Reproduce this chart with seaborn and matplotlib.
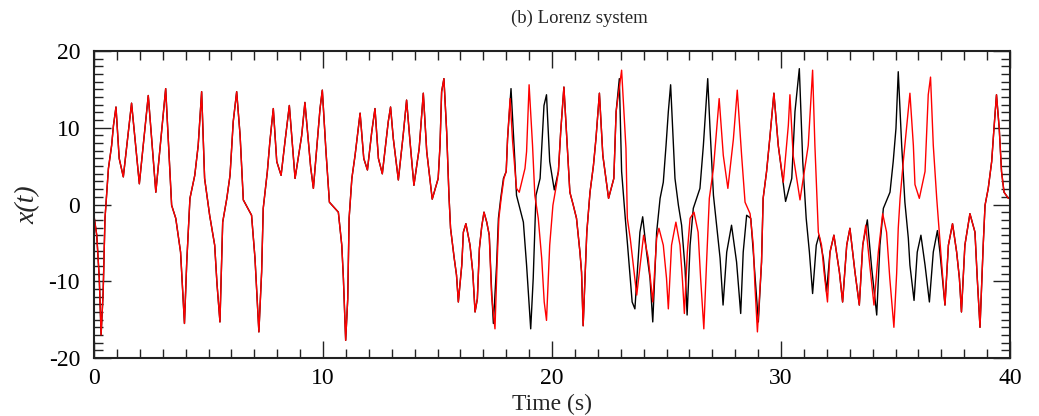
import numpy as np
import pandas as pd
import matplotlib
matplotlib.use("Agg")
import matplotlib.pyplot as plt
from matplotlib.ticker import MultipleLocator
import seaborn as sns

# ---- data (time in s, x(t)) ----
# stretches where both trajectories coincide
common_a_t = [0.0, 0.12, 0.23, 0.31, 0.4, 0.48, 0.63, 0.77, 0.85, 0.96, 1.1, 1.28, 1.64, 1.98, 2.37, 2.7,
              3.13, 3.39, 3.57, 3.78, 3.95, 4.05, 4.19, 4.4, 4.55, 4.7, 4.83, 5.05, 5.27, 5.37, 5.5,
              5.62, 5.8, 5.94, 6.08, 6.23, 6.38, 6.52, 6.88, 7.03, 7.2, 7.32, 7.39, 7.57, 7.68, 7.83,
              7.98, 8.17, 8.34, 8.53, 8.78, 9.07, 9.21, 9.46, 9.58, 9.87, 9.97, 10.13, 10.28, 10.67,
              10.82, 10.89, 10.99, 11.08, 11.14, 11.26, 11.4, 11.62, 11.78, 11.94, 12.13, 12.27, 12.42,
              12.59, 12.85, 12.95, 13.07, 13.29, 13.5, 13.65, 13.8, 13.97, 14.2, 14.38, 14.53, 14.77,
              15.03, 15.11, 15.18, 15.28, 15.4, 15.5, 15.57, 15.73, 15.83, 15.91, 16.06, 16.13, 16.24,
              16.42, 16.54, 16.64, 16.74, 16.83, 16.93, 17.03, 17.15, 17.26]
common_a_x = [-1.5, -4.0, -9.6, -17.0, -11.4, -1.8, 4.7, 7.7, 10.3, 12.7, 6.0, 3.6, 13.2, 2.7, 14.2, 1.6,
              15.1, -0.1, -1.8, -6.2, -15.5, -7.5, 0.8, 3.8, 7.7, 14.7, 3.4, -1.4, -5.3, -10.3, -15.3,
              -2.3, 0.8, 3.8, 10.8, 14.7, 9.0, 0.6, -1.4, -7.0, -16.6, -8.8, -0.5, 4.3, 8.2, 12.5,
              5.6, 3.8, 8.2, 12.9, 3.4, 9.0, 13.3, 4.9, 2.1, 12.5, 14.9, 6.9, 0.3, -1.0,
              -5.3, -9.6, -17.7, -12.3, -1.8, 3.4, 6.4, 11.9, 6.0, 4.5, 9.5, 12.5, 6.0,
              4.0, 10.8, 12.7, 8.6, 3.2, 9.0, 13.6, 8.2, 2.5, 7.3, 14.5, 6.9, 0.7,
              3.4, 7.7, 14.7, 16.4, 9.5, 1.2, -3.1, -7.0, -9.2, -12.7, -7.9, -3.6, -2.5,
              -5.3, -8.8, -14.0, -12.3, -5.7, -2.9, -1.0, -2.3, -4.0]

common_b_t = [20.28, 20.38, 20.47, 20.52, 20.78, 20.93, 21.07, 21.22, 21.29, 21.36, 21.52, 21.66, 21.81,
              21.92, 22.07, 22.22, 22.47, 22.7, 22.8]
common_b_x = [4.3, 9.5, 13.2, 15.3, 1.6, -0.1, -1.8, -6.2, -8.8, -15.8, -3.6, 1.6, 5.1,
              8.6, 14.5, 6.4, 0.8, 3.4, 12.1]

common_c_t = [29.15, 29.22, 29.37, 29.51, 29.69, 29.88]
common_c_x = [-7.5, 0.8, 4.3, 8.6, 14.5, 7.7]

common_d_t = [32.14, 32.31, 32.55, 32.69, 32.87, 33.01, 33.23, 33.42, 33.57]
common_d_x = [-6.2, -4.0, -8.8, -12.7, -5.3, -3.1, -8.8, -13.1, -5.3]

common_e_t = [37.16, 37.31, 37.49, 37.67, 37.79, 37.88, 38.03, 38.25, 38.47, 38.57, 38.69, 38.83,
              38.91, 39.05, 39.2, 39.3, 39.41, 39.53, 39.63, 39.74, 39.93]
common_e_x = [-13.1, -5.3, -2.5, -6.2, -9.6, -14.0, -5.3, -1.2, -3.6, -9.6, -16.0, -5.3,
              -0.1, 2.1, 5.6, 9.9, 14.3, 9.9, 4.3, 1.6, 0.8]

# black trajectory where it departs from the red one
black_1_t = [17.36, 17.44, 17.58, 17.66, 17.76, 17.88, 18.0, 18.06, 18.21, 18.38, 18.45, 18.75, 18.89,
             19.07, 19.18, 19.3, 19.48, 19.65, 19.76, 19.9, 20.1]
black_1_x = [-11.0, -15.5, -7.9, -1.8, 0.8, 3.4, 4.3, 8.6, 15.1, 5.6, 1.2, -2.3, -7.9,
             -16.2, -9.6, 1.2, 3.4, 12.9, 14.3, 5.6, 1.9]
black_2_t = [22.94, 23.04, 23.2, 23.3, 23.5, 23.62, 23.84, 23.96, 24.13, 24.28, 24.4, 24.57, 24.72,
             24.86, 24.98, 25.08, 25.18, 25.27, 25.37, 25.52, 25.66, 25.81, 25.9, 26.03, 26.17,
             26.46, 26.61, 26.8, 26.9, 27.05, 27.22, 27.34, 27.47, 27.63, 27.84, 28.06, 28.24,
             28.35, 28.5, 28.68, 28.79, 29.01]
black_2_x = [16.4, 4.3, -1.8, -5.3, -12.7, -13.6, -3.6, -1.6, -6.2, -9.6, -15.3, -3.6, 0.8,
             2.9, 7.7, 12.1, 15.6, 9.9, 3.4, -0.1, -2.7, -8.3, -14.4, -5.3, -0.5,
             2.1, 7.7, 16.4, 9.9, 1.2, -3.6, -7.0, -13.1, -6.2, -2.7, -7.5, -14.2,
             -6.2, -1.4, -1.8, -6.2, -15.3]
black_3_t = [30.2, 30.47, 30.61, 30.8, 30.95, 31.1, 31.24, 31.38, 31.54, 31.66, 31.85, 31.99]
black_3_x = [0.4, 3.4, 12.1, 17.7, 5.6, -1.8, -6.2, -11.6, -5.3, -4.0, -7.0, -11.4]
black_4_t = [33.77, 33.96, 34.18, 34.32, 34.47, 34.76, 34.9, 35.02, 35.12, 35.27, 35.41, 35.56, 35.63,
             35.81, 35.95, 36.11, 36.29, 36.48, 36.65, 36.83, 36.94]
black_4_x = [-2.0, -8.3, -14.4, -5.3, -0.5, 1.6, 5.6, 9.9, 17.3, 7.7, 0.3, -4.4, -7.9,
             -12.5, -6.2, -4.0, -7.9, -12.7, -6.2, -3.4, -6.2]

# red trajectory where it departs from the black one
red_1_t = [17.36, 17.51, 17.6, 17.68, 17.78, 17.9, 18.0, 18.06, 18.17, 18.28, 18.45, 18.57, 18.82,
           18.89, 19.0, 19.15, 19.25, 19.4, 19.55, 19.66, 19.76, 19.9, 20.04, 20.19]
red_1_x = [-11.8, -16.2, -7.9, -1.8, 0.8, 3.4, 4.3, 8.6, 13.8, 8.2, 2.1, 1.6, 4.7,
           6.9, 15.6, 7.7, 1.2, -1.8, -7.0, -12.7, -15.1, -5.3, -0.1, 2.5]
red_2_t = [23.04, 23.23, 23.29, 23.42, 23.7, 24.0, 24.2, 24.4, 24.57, 24.67, 24.86, 25.0, 25.08,
           25.22, 25.41, 25.59, 25.7, 25.78, 25.91, 26.03, 26.2, 26.38, 26.49, 26.63, 26.75,
           26.87, 27.05, 27.3, 27.48, 27.68, 27.92, 28.09, 28.28, 28.43, 28.65, 28.79, 28.86, 28.97]
red_2_x = [17.5, 7.3, -1.8, -4.5, -11.8, -4.0, -6.9, -12.7, -4.4, -3.1, -5.3, -9.6, -13.6,
           -5.3, -2.3, -5.3, -10.0, -14.2, -6.2, -1.8, -1.0, -3.6, -9.6, -16.2, -7.5,
           0.8, 4.7, 13.8, 6.4, 2.1, 8.5, 14.9, 6.4, 0.3, -1.2, -5.3, -10.5, -16.6]
red_3_t = [30.1, 30.32, 30.39, 30.53, 30.83, 31.19, 31.38, 31.48, 31.63, 31.77, 31.88, 32.03]
red_3_x = [2.9, 10.3, 14.3, 6.4, 0.6, 7.7, 17.5, 7.7, -3.6, -5.3, -8.8, -12.7]
red_4_t = [33.7, 33.88, 34.06, 34.25, 34.44, 34.61, 34.75, 34.93, 35.05, 35.12, 35.2, 35.34, 35.48,
           35.63, 35.78, 35.85, 36.04, 36.29, 36.43, 36.53, 36.65, 36.8, 36.91, 37.01]
red_4_x = [-2.7, -8.0, -13.1, -6.2, -1.2, -3.6, -9.6, -16.0, -9.0, -3.1, 0.8, 5.6, 9.9,
           14.5, 7.7, 2.6, 0.8, 4.3, 14.3, 16.6, 7.7, 0.8, -3.6, -7.5]

x_ticks = [0, 10, 20, 30, 40]
y_ticks = [-20, -10, 0, 10, 20]
title = "(b) Lorenz system"
x_label = "Time (s)"
y_label = "x(t)"

t_black = (common_a_t + black_1_t + common_b_t + black_2_t + common_c_t + black_3_t
           + common_d_t + black_4_t + common_e_t)
x_black = (common_a_x + black_1_x + common_b_x + black_2_x + common_c_x + black_3_x
           + common_d_x + black_4_x + common_e_x)
t_red = (common_a_t + red_1_t + common_b_t + red_2_t + common_c_t + red_3_t
         + common_d_t + red_4_t + common_e_t)
x_red = (common_a_x + red_1_x + common_b_x + red_2_x + common_c_x + red_3_x
         + common_d_x + red_4_x + common_e_x)

df_black = pd.DataFrame({"t": t_black, "x": x_black})
df_red = pd.DataFrame({"t": t_red, "x": x_red})

sns.set_style("ticks")
plt.rcParams["font.family"] = ["Liberation Serif", "DejaVu Serif"]
plt.rcParams["axes.unicode_minus"] = False

fig = plt.figure(figsize=(10.39, 4.16), dpi=100)
ax = fig.add_axes([94 / 1039, 1 - 358 / 416, (1010 - 94) / 1039, (358 - 51) / 416])

sns.lineplot(data=df_black, x="t", y="x", color="black", linewidth=1.0,
             estimator=None, sort=False, ax=ax)
sns.lineplot(data=df_red, x="t", y="x", color="#ff0000", linewidth=1.0,
             estimator=None, sort=False, ax=ax)

ax.set_xlim(0, 40)
ax.set_ylim(-20, 20)
ax.set_xticks(x_ticks)
ax.set_yticks(y_ticks)
ax.xaxis.set_minor_locator(MultipleLocator(1))
ax.yaxis.set_minor_locator(MultipleLocator(1))
ax.tick_params(which="both", direction="in", top=True, right=True, colors="#222222",
               labelcolor="black", width=1.0, labelsize=17)
ax.tick_params(which="major", length=12)
ax.tick_params(axis="y", which="major", pad=10)
ax.tick_params(axis="x", which="major", pad=7)
ax.tick_params(which="minor", length=6.5)
for s in ax.spines.values():
    s.set_linewidth(1.5)
    s.set_color("#222222")

ax.set_title(title, fontsize=13.5, pad=20, x=0.53)
ax.set_xlabel(x_label, fontsize=17, labelpad=4)
ax.set_ylabel(y_label, fontsize=20, style="italic", labelpad=6)

fig.savefig("out.png", dpi=100)
